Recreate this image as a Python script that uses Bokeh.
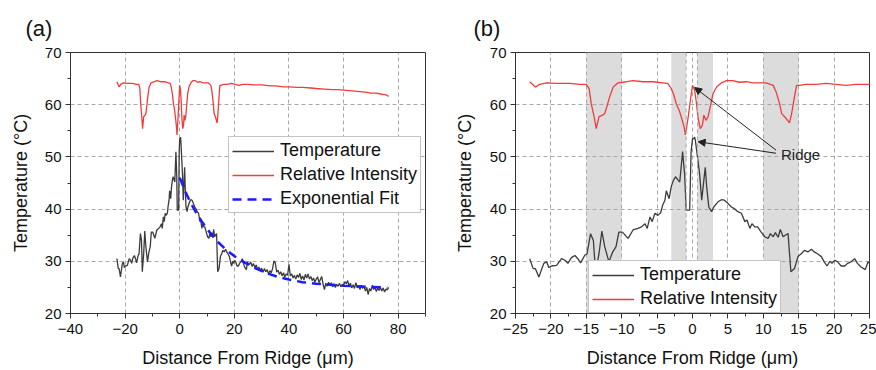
from bokeh.plotting import figure
from bokeh.layouts import row
from bokeh.models import (Range1d, SingleIntervalTicker, Legend, LegendItem, Label,
                          BoxAnnotation, Span, Arrow, NormalHead)
from bokeh.embed import file_html
from bokeh.resources import INLINE

FONT = "Liberation Sans"

# ---------------- data ----------------
temp_x = [-23.0, -22.5, -22.2, -21.7, -21.0, -20.6, -20.3, -19.9, -19.2, -18.5, -18.0, -17.6,
          -17.1, -16.6, -16.2, -15.8, -15.2, -14.9, -14.4, -14.0, -13.7, -13.2, -12.8, -12.4,
          -11.8, -11.3, -10.8, -10.4, -9.9, -9.1, -8.4, -7.7, -7.2, -6.7, -6.4, -6.0, -5.7,
          -5.3, -4.9, -4.5, -4.2, -3.9, -3.7, -3.3, -3.0, -2.7, -2.4, -2.0, -1.8, -1.4, -1.1,
          -0.9, -0.6, -0.4, -0.2, 0.0, 0.2, 0.3, 0.4, 0.7, 1.0, 1.3, 1.6, 1.8, 2.0, 2.3, 2.7,
          3.0, 3.6, 4.1, 4.5, 5.0, 5.5, 5.9, 6.4, 6.9, 7.4, 7.7, 8.1, 8.4, 8.8, 9.2, 9.7, 10.2,
          10.7, 11.0, 11.4, 11.7, 12.1, 12.4, 12.8, 13.1, 13.5, 13.7, 13.9, 14.4, 14.9, 15.4,
          15.8, 16.3, 16.8, 17.2, 17.7, 18.2, 18.6, 19.0, 19.4, 19.7, 20.1, 20.5, 21.0, 21.5,
          21.9, 22.4, 22.9, 23.3, 23.8, 24.4, 24.8, 25.0,
          25.5, 26.0, 26.5, 27.0, 27.5, 28.0, 28.5, 29.0, 29.5, 30.0, 30.5, 31.0, 31.5, 32.0,
          32.5, 33.0, 33.5, 34.0, 34.5, 35.0, 35.5, 36.0, 36.5, 37.0, 37.5, 38.0, 38.5, 39.0,
          39.5, 40.0, 40.5, 41.0, 41.5, 42.0, 42.5, 43.0, 43.5, 44.0, 44.5, 45.0, 45.5, 46.0,
          46.5, 47.0, 47.5, 48.0, 48.5, 49.0, 49.5, 50.0, 50.5, 51.0, 51.5, 52.0, 52.5, 53.0,
          53.5, 54.0, 54.5, 55.0, 55.5, 56.0, 56.5, 57.0, 57.5, 58.0, 58.5, 59.0, 59.5, 60.0,
          60.5, 61.0, 61.5, 62.0, 62.5, 63.0, 63.5, 64.0, 64.5, 65.0, 65.5, 66.0, 66.5, 67.0,
          67.5, 68.0, 68.5, 69.0, 69.5, 70.0, 70.5, 71.0, 71.5, 72.0, 72.5, 73.0, 73.5, 74.0,
          74.5, 75.0, 75.5, 76.0, 76.5]
temp_y = [30.5, 28.6, 28.6, 27.0, 29.6, 29.9, 28.8, 29.1, 29.2, 30.5, 30.2, 29.6,
          30.7, 31.1, 30.5, 29.7, 31.2, 31.4, 35.3, 34.0, 28.0, 31.5, 35.8, 32.8,
          29.9, 31.7, 32.8, 35.6, 35.6, 34.4, 36.0, 36.3, 36.6, 37.2, 36.3, 38.5, 37.6,
          39.2, 38.8, 39.3, 40.8, 41.7, 43.5, 42.0, 44.3, 45.5, 46.2, 45.5, 45.2, 51.0, 46.5,
          39.8, 39.8, 39.8, 51.0, 53.5, 53.5, 53.8, 53.2, 50.0, 46.8, 41.7, 45.5, 48.0, 44.3, 40.4, 39.5,
          40.4, 41.4, 41.8, 41.7, 41.1, 40.4, 40.1, 39.5, 39.2, 37.6, 37.9, 36.3, 37.2, 36.6, 36.6, 35.6, 34.7,
          34.4, 35.3, 34.7, 35.5, 34.6, 36.1, 34.7, 35.0, 35.3, 31.5, 28.0, 28.6, 30.9, 31.5,
          32.1, 31.8, 32.3, 31.8, 31.4, 30.9, 29.9, 29.1, 30.0, 29.6, 30.2, 29.9, 29.1, 29.1,
          29.6, 29.9, 30.5, 29.6, 28.9, 28.4, 29.9, 29.6,
          29.4, 29.9, 29.0, 29.6, 28.8, 29.3, 28.4, 28.9, 28.2, 28.7, 27.9, 28.6, 28.0, 28.4,
          27.6, 28.2, 27.8, 28.6, 30.1, 29.7, 27.9, 28.3, 27.5, 28.0, 27.2, 27.8, 27.0, 27.6,
          27.3, 29.4, 27.2, 27.6, 26.8, 27.3, 26.6, 27.4, 26.9, 27.7, 26.5, 27.2, 26.4, 27.5,
          26.8, 27.6, 26.6, 27.1, 26.3, 26.8, 26.0, 26.6, 27.0, 25.9, 26.5, 27.1, 25.6, 24.6,
          25.8, 25.2, 26.0, 25.4, 25.9, 25.1, 25.7, 25.0, 25.6, 25.2, 25.8, 25.1, 25.6, 25.4,
          26.1, 25.7, 26.3, 25.3, 25.8, 24.9, 25.5, 24.8, 25.9, 24.9, 25.3, 24.6, 25.4, 24.8,
          25.2, 24.3, 25.0, 23.6, 24.8, 24.3, 25.4, 24.6, 25.0, 24.2, 24.9, 24.4, 25.0, 24.3,
          24.9, 24.1, 24.7, 24.5, 25.0]

int_x = [-23.0, -22.2, -21.6, -20.6, -19.2, -17.3, -15.9, -15.0, -14.6, -14.3, -13.9, -13.6,
         -13.2, -12.7, -12.4, -12.1, -11.7, -11.2, -10.5, -9.3, -8.4, -7.0, -5.6, -4.2, -3.5,
         -3.0, -2.7, -2.3, -1.9, -1.6, -1.2, -1.0, -0.6, -0.3, 0.0, 0.3, 0.5, 0.8, 1.1, 1.4,
         1.6, 1.9, 2.2, 2.5, 2.9, 3.4, 4.1, 4.8, 5.7, 6.6, 7.6, 8.5, 9.7, 10.4, 11.4, 11.8,
         12.3, 12.6, 13.2, 13.7, 14.0, 14.4, 14.7, 15.1, 16.0, 17.4, 18.9, 20.3, 21.7, 23.1,
         25.0, 27.0, 30.0, 33.0, 35.0, 38.0, 40.0, 43.0, 45.0, 48.0, 50.0, 53.0, 56.0, 58.0,
         60.0, 62.0, 64.0, 66.0, 68.0, 70.0, 72.0, 74.0, 75.5, 76.5]
int_y = [64.4, 63.4, 63.9, 64.2, 64.1, 64.1, 63.9, 63.9, 63.1, 60.2, 57.7, 55.4,
         57.7, 58.0, 58.3, 59.6, 61.5, 63.4, 64.2, 64.4, 64.6, 64.4, 64.4, 64.2, 64.1,
         63.1, 62.1, 60.2, 59.0, 57.7, 55.8, 54.2, 57.7, 60.9, 63.7, 62.8, 60.9, 57.4, 55.4, 56.1,
         58.0, 57.0, 57.7, 59.6, 62.1, 63.4, 64.2, 64.6, 64.6, 64.3, 64.4, 64.2, 64.2, 64.2, 63.7, 62.5,
         60.2, 58.3, 57.4, 56.5, 58.3, 61.5, 63.7, 63.7, 63.9, 63.9, 64.1, 63.9, 63.7, 63.9,
         63.9, 63.8, 63.8, 63.6, 63.6, 63.4, 63.4, 63.3, 63.3, 63.2, 63.1, 63.0, 62.9, 62.9,
         62.8, 62.7, 62.6, 62.5, 62.4, 62.2, 62.2, 62.0, 61.9, 61.6]

fit_x = [0, 2, 4, 6, 8, 10, 12, 14, 16, 18, 20, 24, 28, 32, 36, 40, 45, 50, 55, 60, 65, 70, 76]
fit_y = [46.0, 43.4, 41.2, 39.3, 37.7, 36.2, 34.9, 33.7, 32.7, 31.8, 31.0, 29.7, 28.6,
         27.7, 27.0, 26.5, 26.0, 25.7, 25.5, 25.3, 25.2, 25.1, 25.0]

shade_left = [-15.0, -3.0, 0.7, 10.0]
shade_right = [-10.0, -0.9, 2.9, 15.0]
extra_lines = [-0.9, 0.7]

ridge_text_x, ridge_text_y = 12.5, 50.5
arrow_start_x = [11.8, 11.8]
arrow_start_y = [51.3, 50.7]
arrow_end_x = [0.3, 0.8]
arrow_end_y = [63.3, 52.9]

x_label = "Distance From Ridge (\u03bcm)"
y_label = "Temperature (\u00b0C)"

TEMP_C = "#3c3c3c"
INT_C = "#f03c3c"
FIT_C = "#1a1aff"
GRID_C = "#a8a8a8"


def make_fig(width, left, right, xr, xint, letter, title_offset, ylab_standoff):
    p = figure(width=width, height=370, output_backend="svg", toolbar_location=None,
               x_range=Range1d(*xr), y_range=Range1d(20, 70),
               min_border_left=left, min_border_right=right,
               min_border_top=52, min_border_bottom=57, title=letter)
    p.title.text_font = FONT
    p.title.text_font_size = "22px"
    p.title.text_font_style = "normal"
    p.title.text_color = "#111111"
    p.title.align = "left"
    p.title.offset = title_offset
    p.title.standoff = 24
    p.outline_line_color = "#333333"
    p.outline_line_width = 1
    p.background_fill_color = "white"
    p.border_fill_color = "white"
    p.xaxis.ticker = SingleIntervalTicker(interval=xint, num_minor_ticks=2)
    p.yaxis.ticker = SingleIntervalTicker(interval=10, num_minor_ticks=2)
    for ax in (p.xaxis[0], p.yaxis[0]):
        ax.axis_line_color = "#333333"
        ax.major_tick_line_color = "#333333"
        ax.minor_tick_line_color = "#333333"
        ax.major_tick_out = 5
        ax.major_tick_in = 0
        ax.minor_tick_out = 3
        ax.minor_tick_in = 0
        ax.major_label_text_font = FONT
        ax.major_label_text_font_size = "15px"
        ax.major_label_text_color = "#111111"
        ax.axis_label_text_font = FONT
        ax.axis_label_text_font_size = "18px"
        ax.axis_label_text_font_style = "normal"
        ax.axis_label_text_color = "#111111"
    p.xaxis.axis_label = x_label
    p.yaxis.axis_label = y_label
    p.xaxis.major_label_standoff = 5
    p.xaxis.axis_label_standoff = 11
    p.yaxis.major_label_standoff = 4
    p.yaxis.axis_label_standoff = ylab_standoff
    for g in (p.xgrid[0], p.ygrid[0]):
        g.grid_line_color = GRID_C
        g.grid_line_dash = "4 3"
        g.grid_line_width = 1
    return p


# ---------------- panel (a) ----------------
pa = make_fig(438, 70, 13, (-40, 90), 20, "(a)", -45, 11)
ra = pa.line(temp_x, temp_y, line_color=TEMP_C, line_width=1.3)
rb = pa.line(int_x, int_y, line_color=INT_C, line_width=1.3)
rc = pa.line(fit_x, fit_y, line_color=FIT_C, line_width=2.5, line_dash="9 6")
leg_a = Legend(items=[LegendItem(label="Temperature", renderers=[ra]),
                      LegendItem(label="Relative Intensity", renderers=[rb]),
                      LegendItem(label="Exponential Fit", renderers=[rc])],
               location=(158, 100))
pa.add_layout(leg_a, "center")

# ---------------- panel (b) ----------------
pb = make_fig(438, 77, 7, (-25, 25), 5, "(b)", -42, 12)
for l, r in zip(shade_left, shade_right):
    pb.add_layout(BoxAnnotation(left=l, right=r, fill_color="#dcdcdc", fill_alpha=1.0,
                                line_alpha=0, level="image"))
for xv in extra_lines:
    pb.add_layout(Span(location=xv, dimension="height", line_color=GRID_C,
                       line_dash="4 3", line_width=1))
rd = pb.line(temp_x, temp_y, line_color=TEMP_C, line_width=1.3)
rf = pb.line(int_x, int_y, line_color=INT_C, line_width=1.3)
for sx, sy, ex, ey in zip(arrow_start_x, arrow_start_y, arrow_end_x, arrow_end_y):
    pb.add_layout(Arrow(x_start=sx, y_start=sy, x_end=ex, y_end=ey, line_color="#222222",
                        line_width=1,
                        end=NormalHead(size=7, fill_color="#222222", line_color="#222222")))
pb.add_layout(Label(x=ridge_text_x, y=ridge_text_y, text="Ridge", text_font=FONT,
                    text_font_size="15px", text_baseline="middle", text_color="#222222"))
leg_b = Legend(items=[LegendItem(label="Temperature", renderers=[rd]),
                      LegendItem(label="Relative Intensity", renderers=[rf])],
               location=(73, 0))
pb.add_layout(leg_b, "center")

for lg in (leg_a, leg_b):
    lg.label_text_font = FONT
    lg.label_text_font_size = "18px"
    lg.label_text_color = "#111111"
    lg.glyph_width = 42
    lg.glyph_height = 20
    lg.label_height = 20
    lg.label_standoff = 6
    lg.spacing = 3
    lg.padding = 3
    lg.margin = 0
    lg.border_line_color = "#8a8a8a"
    lg.border_line_width = 1
    lg.background_fill_color = "white"
    lg.background_fill_alpha = 1.0

layout = row(pa, pb)
open("out.html", "w").write(file_html(layout, INLINE))
